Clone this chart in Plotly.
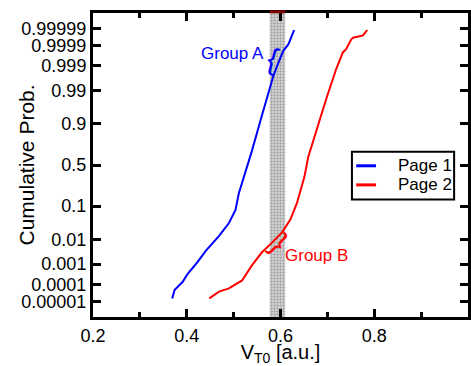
from statistics import NormalDist
import plotly.graph_objects as go

# ---------------- data ----------------
x_page1 = [0.369, 0.374, 0.384, 0.391, 0.402, 0.420, 0.441, 0.469, 0.490, 0.504,
           0.511, 0.522, 0.539, 0.557, 0.575, 0.585, 0.596, 0.606, 0.617, 0.621,
           0.624, 0.629]
p_page1 = [1.59e-5, 4.82e-5, 8.85e-5, 1.31e-4, 3.48e-4, 1.035e-3, 3.79e-3, 0.01355,
           0.0351, 0.0808, 0.1867, 0.3557, 0.670, 0.9147, 0.98899, 0.99736,
           0.999336, 0.999815, 0.999918, 0.9999557, 0.9999765, 0.9999872]

x_page2 = [0.448, 0.469, 0.490, 0.511, 0.518, 0.539, 0.560, 0.582, 0.603, 0.621,
           0.635, 0.645, 0.651, 0.659, 0.680, 0.698, 0.719, 0.733, 0.740, 0.751,
           0.755, 0.776, 0.785]
p_page2 = [1.59e-5, 3.91e-5, 5.92e-5, 1.31e-4, 1.59e-4, 8.74e-4, 3.17e-3, 7.76e-3,
           0.01743, 0.0446, 0.1170, 0.2483, 0.3557, 0.5948, 0.8962, 0.98124,
           0.99865, 0.999776, 0.999847, 0.9999557, 0.999964, 0.9999733, 0.9999872]

series_names = ["Page 1", "Page 2"]
series_colors = ["#0000ff", "#ff0000"]
band_x = [0.577, 0.610]

y_tick_probs = [0.00001, 0.0001, 0.001, 0.01, 0.1, 0.5, 0.9, 0.99, 0.999, 0.9999, 0.99999]
y_tick_text = ["0.00001", "0.0001", "0.001", "0.01", "0.1", "0.5", "0.9",
               "0.99", "0.999", "0.9999", "0.99999"]
x_tick_vals = [0.2, 0.4, 0.6, 0.8]
x_tick_text = ["0.2", "0.4", "0.6", "0.8"]

# ---------------- helpers ----------------
nd = NormalDist()
probit = lambda ps: [nd.inv_cdf(p) for p in ps]

Y_LIM = 4.74
FONT = "Arial, Liberation Sans, Helvetica, sans-serif"

fig = go.Figure()

# highlighted band
fig.add_trace(go.Scatter(
    x=[band_x[0], band_x[1], band_x[1], band_x[0], band_x[0]],
    y=[-Y_LIM, -Y_LIM, Y_LIM, Y_LIM, -Y_LIM],
    fill="toself", mode="lines", line=dict(width=0),
    fillcolor="#c8c8c8",
    fillpattern=dict(shape=".", fgcolor="#6e6e6e", bgcolor="#dcdcdc", size=3, solidity=0.5),
    showlegend=False, hoverinfo="skip"))

for xs, ps, name, col in [(x_page1, p_page1, series_names[0], series_colors[0]),
                          (x_page2, p_page2, series_names[1], series_colors[1])]:
    fig.add_trace(go.Scatter(x=xs, y=probit(ps), mode="lines", name=name,
                             line=dict(color=col, width=2), showlegend=False))

axis_common = dict(showline=True, linewidth=3, linecolor="black", mirror="allticks",
                   ticks="inside", tickwidth=3, ticklen=8, tickcolor="black",
                   showgrid=False, zeroline=False,
                   tickfont=dict(size=18, color="black", family=FONT))

fig.update_xaxes(range=[0.2, 1.0], tickvals=x_tick_vals, ticktext=x_tick_text,
                 minor=dict(ticks="inside", ticklen=5, tickwidth=3, tickcolor="black",
                            tick0=0.2, dtick=0.1, showgrid=False),
                 title=dict(text="V<sub>T0</sub> [a.u.]", standoff=6,
                            font=dict(size=20, color="black", family=FONT)),
                 **axis_common)
fig.update_yaxes(range=[-Y_LIM, Y_LIM], tickvals=probit(y_tick_probs), ticktext=y_tick_text,
                 **axis_common)

# legend box (paper coordinates of the plot area)
LEG_X0, LEG_X1, LEG_Y0, LEG_Y1 = 0.6905, 0.963, 0.3867, 0.5437
LEG_ROWS = [0.4974, 0.4346]
shapes = [
    dict(type="rect", xref="paper", yref="paper", x0=LEG_X0, x1=LEG_X1, y0=LEG_Y0, y1=LEG_Y1,
         line=dict(color="black", width=2), fillcolor="white", layer="above"),
    dict(type="line", xref="x", yref="paper", x0=band_x[0], x1=band_x[1], y0=1.004, y1=1.004,
         line=dict(color="#800000", width=3), layer="above"),
]
annotations = [
    dict(text="Cumulative Prob.", x=-0.18, y=0.5, xref="paper", yref="paper",
         textangle=-90, showarrow=False, xanchor="center", yanchor="middle",
         font=dict(size=21, color="black", family=FONT)),
    dict(text="Group A", x=0.498, y=3.48, xref="x", yref="y", showarrow=False,
         font=dict(size=17, color="#0000ff", family=FONT)),
    dict(text="{", x=0.583, y=3.31, xref="x", yref="y", showarrow=False, textangle=15,
         font=dict(size=30, color="#0000ff", family=FONT)),
    dict(text="Group B", x=0.676, y=-2.81, xref="x", yref="y", showarrow=False,
         font=dict(size=17, color="#ff0000", family=FONT)),
    dict(text="}", x=0.598, y=-2.41, xref="x", yref="y", showarrow=False, textangle=45,
         font=dict(size=30, color="#ff0000", family=FONT)),
]
for name, col, yr in zip(series_names, series_colors, LEG_ROWS):
    shapes.append(dict(type="line", xref="paper", yref="paper", x0=0.7019, x1=0.7548,
                       y0=yr, y1=yr, line=dict(color=col, width=3), layer="above"))
    annotations.append(dict(text=name, x=0.8077, y=yr, xref="paper", yref="paper",
                            xanchor="left", yanchor="middle", showarrow=False,
                            font=dict(size=17, color="black", family=FONT)))

fig.update_layout(
    width=471, height=366,
    margin=dict(l=93, r=0, t=13, b=44),
    paper_bgcolor="white", plot_bgcolor="white",
    font=dict(family=FONT, color="black"),
    shapes=shapes,
    annotations=annotations,
    showlegend=False,
)

fig.write_html("out.html", config={"displayModeBar": False},
               post_script="document.body.style.margin='0px';")
